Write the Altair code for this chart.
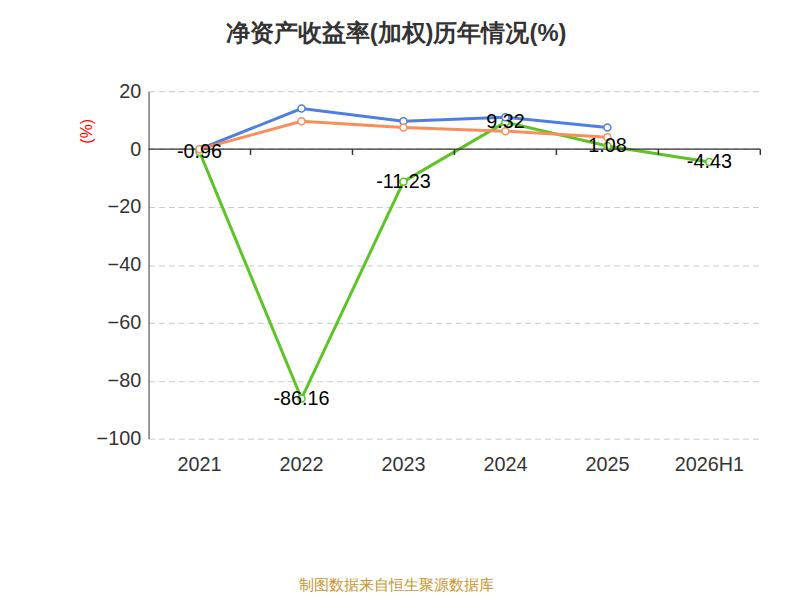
import altair as alt
import pandas as pd

years = ["2021", "2022", "2023", "2024", "2025", "2026H1"]
company = [-0.96, -86.16, -11.23, 9.32, 1.08, -4.43]
industry_avg = [0.0, 14.0, 9.6, 11.0, 7.5]
industry_med = [0.0, 9.6, 7.5, 6.2, 4.1]
series = ["公司净资产收益率(加权)", "行业均值", "行业中位数"]
colors = ["#5cc424", "#4e7fe0", "#f98e5a"]

rows = []
for y, v in zip(years, company):
    rows.append({"year": y, "value": v, "series": series[0], "label": f"{v:.2f}"})
for y, v in zip(years, industry_avg):
    rows.append({"year": y, "value": v, "series": series[1], "label": ""})
for y, v in zip(years, industry_med):
    rows.append({"year": y, "value": v, "series": series[2], "label": ""})
df = pd.DataFrame(rows)

W, H = 618, 351
xscale = alt.Scale(domain=years, paddingInner=0, paddingOuter=0)
xenc = alt.X("year:N", sort=years, scale=xscale,
             axis=alt.Axis(title=None, domain=False, ticks=False, labelPadding=16,
                           labelFontSize=20, labelColor="#333", labelAngle=0, grid=False))
yscale = alt.Scale(domain=[-100, 20], nice=False)
cscale = alt.Scale(domain=series, range=colors)

base = alt.Chart(df)
lines = base.mark_line(strokeWidth=3).encode(
    x=xenc,
    y=alt.Y("value:Q", scale=yscale,
            axis=alt.Axis(values=[-100, -80, -60, -40, -20, 0, 20], title="(%)",
                          titleColor="red", titleFontSize=16, titleFontWeight="normal",
                          titleAngle=270, titleX=-55, titleY=40, labelFontSize=20,
                          labelColor="#333", ticks=False, labelPadding=8,
                          domainColor="#333", gridDash=[6, 4], gridColor="#c8c8c8")),
    color=alt.Color("series:N", sort=series, scale=cscale, legend=None),
)
points = base.mark_point(filled=True, fill="white", size=50, strokeWidth=1.5, opacity=1).encode(
    x=alt.X("year:N", sort=years, scale=xscale),
    y=alt.Y("value:Q", scale=yscale),
    stroke=alt.Stroke("series:N", sort=series, scale=cscale,
                      legend=alt.Legend(title=None, orient="none", direction="horizontal",
                                        legendX=-100, legendY=430, labelFontSize=20,
                                        labelLimit=0, labelColor="#333", columnPadding=30,
                                        symbolSize=625, symbolStrokeWidth=2,
                                        symbolFillColor="white",
                                        symbolType="M-2,0L-0.42,0M0.42,0L2,0M0.42,0A0.42,0.42 0 1,1 -0.42,0A0.42,0.42 0 1,1 0.42,0")),
)
labels = base.mark_text(fontSize=20, color="black").encode(
    x=alt.X("year:N", sort=years, scale=xscale), y=alt.Y("value:Q", scale=yscale), text="label:N"
)
zero_line = alt.Chart(pd.DataFrame({"v": [0]})).mark_rule(color="#333", strokeWidth=1.5).encode(
    x=alt.value(0), x2=alt.value(W), y=alt.Y("v:Q", scale=yscale)
)
tick_years = years[1:]
ticks = alt.Chart(pd.DataFrame({"year": tick_years})).mark_rule(color="#333", strokeWidth=1.5).encode(
    x=alt.X("year:N", sort=years, scale=xscale, bandPosition=0),
    y=alt.datum(0), y2=alt.datum(-2),
)
end_tick = alt.Chart(pd.DataFrame({"v": [0]})).mark_rule(color="#333", strokeWidth=1.5).encode(
    x=alt.value(W), y=alt.Y("v:Q", scale=yscale), y2=alt.datum(-2)
)
source = alt.Chart(pd.DataFrame({"t": ["制图数据来自恒生聚源数据库"]})).mark_text(
    fontSize=15, color="#c8952e").encode(x=alt.value(250), y=alt.value(499), text="t:N")

chart = (
    alt.layer(lines, zero_line, ticks, end_tick, points, labels, source)
    .properties(
        width=W, height=H, autosize=alt.AutoSizeParams(type="none"),
        padding={"left": 142, "top": 81, "right": 32, "bottom": 170},
        title=alt.TitleParams("净资产收益率(加权)历年情况(%)", fontSize=24, fontWeight="bold",
                              color="#333", anchor="middle", dx=-59, offset=36),
    )
    .configure_view(stroke=None)
)
chart.save("out.html", embed_options={"renderer": "svg", "actions": False})
